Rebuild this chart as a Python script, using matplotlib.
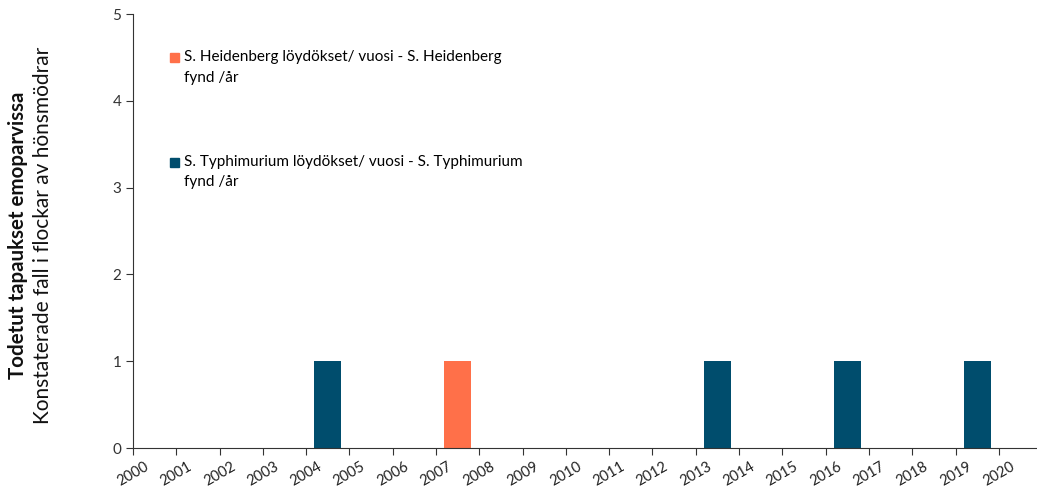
import matplotlib.pyplot as plt
import matplotlib.patches as mpatches
import matplotlib.transforms as mtransforms
from matplotlib.legend_handler import HandlerPatch
import numpy as np

plt.rcParams['font.family'] = ['Lato', 'DejaVu Sans']

# Data
years = [str(y) for y in range(2000, 2021)]
heidenberg = [0, 0, 0, 0, 0, 0, 0, 1, 0, 0, 0, 0, 0, 0, 0, 0, 0, 0, 0, 0, 0]
typhimurium = [0, 0, 0, 0, 1, 0, 0, 0, 0, 0, 0, 0, 0, 1, 0, 0, 1, 0, 0, 1, 0]

lab_h = 'S. Heidenberg löydökset/ vuosi - S. Heidenberg\nfynd /år'
lab_t = 'S. Typhimurium löydökset/ vuosi - S. Typhimurium\nfynd /år'

c_h = '#FF7049'
c_t = '#004D6D'

fig = plt.figure(figsize=(10.37, 4.9), dpi=100)
ax = fig.add_axes([0.1283, 0.0857, 0.8766, 0.8857])

x = np.arange(len(years)) + 0.5
ax.bar(x, typhimurium, width=0.62, color=c_t, label=lab_t)
ax.bar(x, heidenberg, width=0.62, color=c_h, label=lab_h)

ax.set_xlim(0, 21)
ax.set_ylim(0, 5)
ax.set_xticks(np.arange(len(years)))
ax.set_xticklabels(years, rotation=30, ha='center', fontsize=10.5)
shift = mtransforms.ScaledTranslation(9 / 100, 0, fig.dpi_scale_trans)
for lbl in ax.get_xticklabels():
    lbl.set_color('#222222')
    lbl.set_transform(lbl.get_transform() + shift)
ax.set_yticks(range(6))
ax.tick_params(axis='y', labelsize=11, colors='#333333', length=5)
ax.tick_params(axis='x', length=5, colors='#333333', labelcolor='#222222')

for s in ['top', 'right']:
    ax.spines[s].set_visible(False)
for s in ['left', 'bottom']:
    ax.spines[s].set_color('#333333')

# legend with squares aligned to first text line
def top_square(legend, orig_handle, xdescent, ydescent, width, height, fontsize):
    size = fontsize * 0.58
    return mpatches.Rectangle((-xdescent, -ydescent + height - size), size, size)

h_handle = mpatches.Patch(color=c_h)
t_handle = mpatches.Patch(color=c_t)
leg = ax.legend([h_handle, t_handle], [lab_h, lab_t], loc='upper left',
                bbox_to_anchor=(0.151, 0.926), bbox_transform=fig.transFigure,
                frameon=False, fontsize=11, handlelength=0.6, handleheight=2.7,
                handletextpad=0.3, labelspacing=4.6,
                handler_map={mpatches.Patch: HandlerPatch(patch_func=top_square)})
for t in leg.get_texts():
    t.set_linespacing(1.6)

fig.text(0.017, 0.52, 'Todetut tapaukset emoparvissa', rotation=90,
         ha='center', va='center', fontsize=14.8, fontweight='bold', color='#111111')
fig.text(0.041, 0.52, 'Konstaterade fall i flockar av hönsmödrar', rotation=90,
         ha='center', va='center', fontsize=15, color='#111111')

fig.savefig('out.png', dpi=100)
